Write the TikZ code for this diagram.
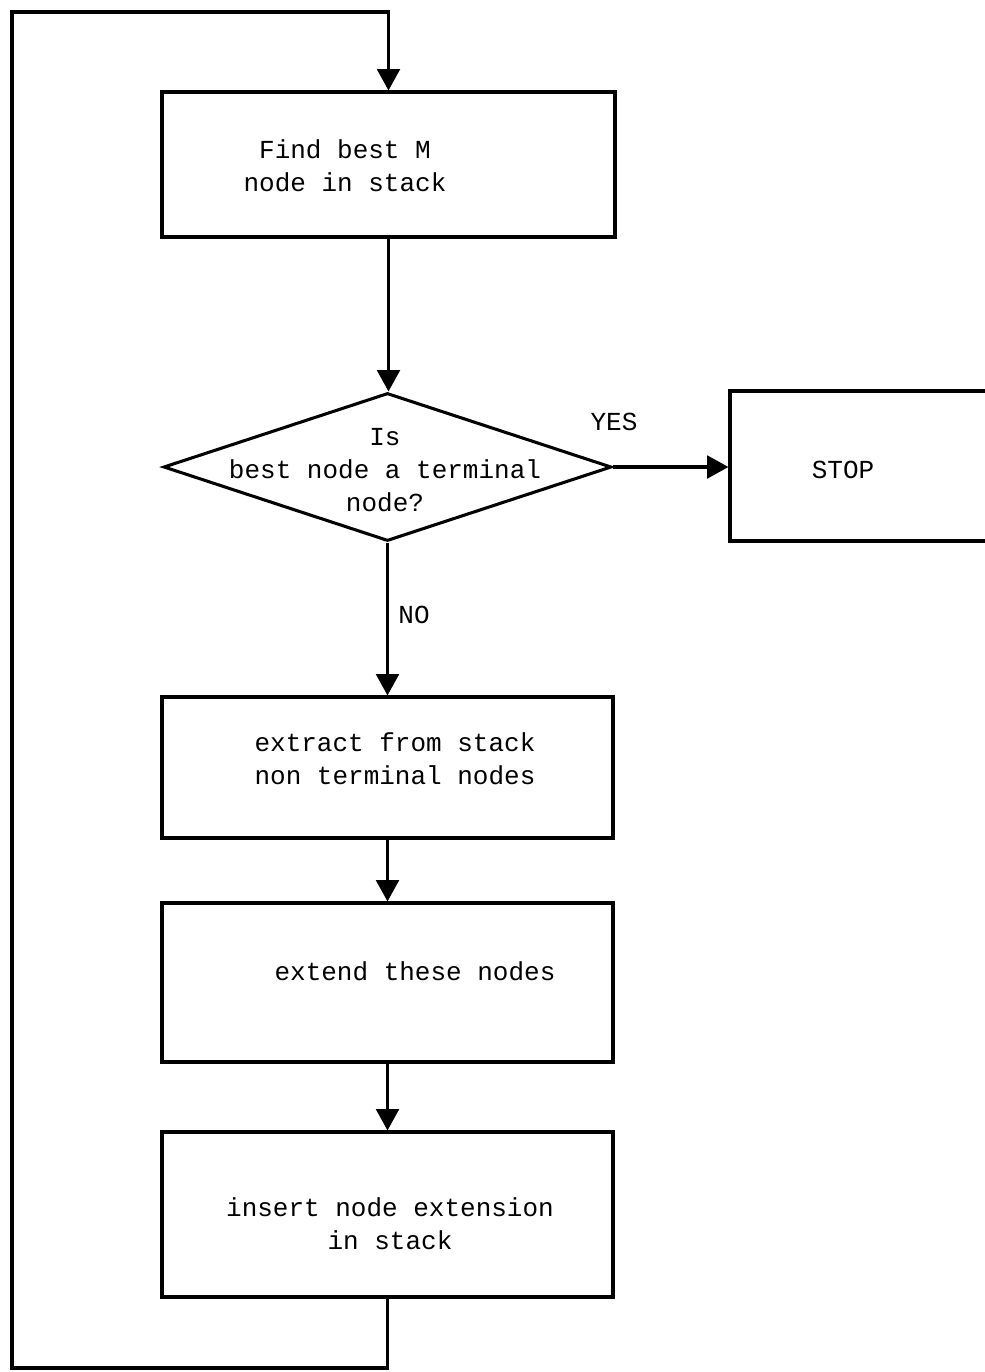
\documentclass[tikz,border=0pt]{standalone}
\usepackage{fontspec}
\setmainfont{Liberation Mono}
\usetikzlibrary{arrows.meta,shapes.geometric}
\begin{document}
\begin{tikzpicture}[x=0.75pt,y=-0.75pt,line width=2.3pt,
  box/.style={draw,rectangle,inner sep=0pt},
  txt/.style={font=\fontsize{19.5}{25}\selectfont,align=center,inner sep=0pt},
  arr/.style={-{Triangle[length=16pt,width=17pt]}}]
\clip (0,0) rectangle (985,1372);
% boxes
\node[box,minimum width=339.75pt,minimum height=108.75pt] (b1) at (388.5,164.5) {};
\node[draw,diamond,inner sep=0pt,minimum width=336pt,minimum height=111pt] (dec) at (387.5,467) {};
\node[box,minimum width=196.5pt,minimum height=112.5pt] (stop) at (861,466) {};
\node[box,minimum width=338.25pt,minimum height=105.75pt] (b2) at (387.5,767.5) {};
\node[box,minimum width=338.25pt,minimum height=119.25pt] (b3) at (387.5,982.5) {};
\node[box,minimum width=338.25pt,minimum height=123.75pt] (b4) at (387.5,1214.5) {};
% texts
\node[txt] (t1) at (345,166) {Find best M\\node in stack};
\node[txt] (td) at (385,470) {Is\\best node a terminal\\node?};
\node[txt] (ts) at (843,470) {STOP};
\node[txt] (t2) at (395,759) {extract from stack\\non terminal nodes};
\node[txt] (t3) at (415,971) {extend these nodes};
\node[txt] (t4) at (390,1224) {insert node extension\\in stack};
\node[txt] (yes) at (614,422) {YES};
\node[txt] (no) at (414,615) {NO};
% connectors
\coordinate (c2) at (12,1368);
\coordinate (c3) at (12,12);
\draw[arr] (b1.south) -- (b1.south |- dec.north);
\draw[arr] (dec.east) -- (dec.east -| stop.west);
\draw[arr] (dec.south) -- (dec.south |- b2.north);
\draw[arr] (b2.south) -- (b3.north);
\draw[arr] (b3.south) -- (b4.north);
\draw[arr] (b4.south) -- (b4.south |- c2) -- (c2) -- (c3) -- (c3 -| b1.north) -- (b1.north);
\end{tikzpicture}
\end{document}
